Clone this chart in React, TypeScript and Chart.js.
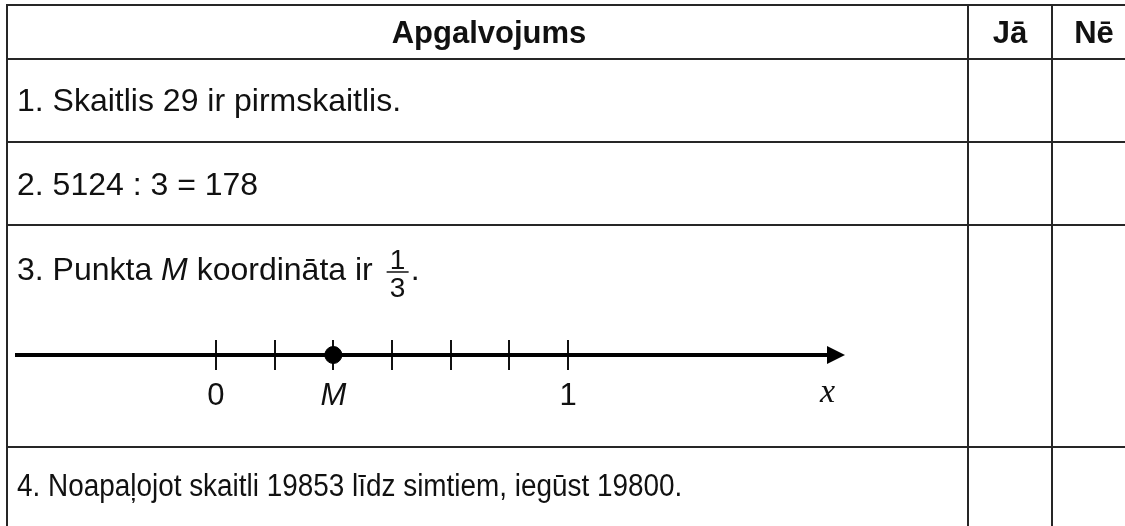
import React, { useEffect, useRef } from 'react';
import { Chart, registerables } from 'chart.js';

Chart.register(...registerables);

// ---- content / data ----
const headerLabels = ['Apgalvojums', 'Jā', 'Nē'];
const statement1 = '1. Skaitlis 29 ir pirmskaitlis.';
const statement2 = '2. 5124 : 3 = 178';
const statement3Parts = ['3. Punkta ', 'M', ' koordināta ir '];
const fractionNumerator = '1';
const fractionDenominator = '3';
const statement4 = '4. Noapaļojot skaitli 19853 līdz simtiem, iegūst 19800.';

const tickValues = [0, 1 / 6, 2 / 6, 3 / 6, 4 / 6, 5 / 6, 1];
const tickLabels = ['0', '', 'M', '', '', '', '1'];
const pointM = [{ x: 1 / 3, y: 0 }];
const axisVariable = 'x';
const axisMin = -0.5653;
const axisMax = 1.767;

const SANS = '"Liberation Sans", Arial, sans-serif';
const SERIF = '"Liberation Serif", "Times New Roman", serif';

function drawScaled(ctx: CanvasRenderingContext2D, text: string, x: number, y: number, sx: number) {
  ctx.save();
  ctx.translate(x, y);
  ctx.scale(sx, 1);
  ctx.fillText(text, 0, 0);
  ctx.restore();
  return ctx.measureText(text).width * sx;
}

const tablePlugin = {
  id: 'tableOverlay',
  afterDraw(chart: any) {
    const ctx: CanvasRenderingContext2D = chart.ctx;
    const W = chart.width;
    const H = chart.height;
    ctx.save();

    // table grid
    ctx.strokeStyle = '#262626';
    ctx.lineWidth = 2;
    const hLines = [5, 59, 142, 225, 447];
    const vLines = [7, 968, 1052];
    hLines.forEach((y) => {
      ctx.beginPath();
      ctx.moveTo(6, y);
      ctx.lineTo(W, y);
      ctx.stroke();
    });
    vLines.forEach((x) => {
      ctx.beginPath();
      ctx.moveTo(x, 4);
      ctx.lineTo(x, H);
      ctx.stroke();
    });

    ctx.fillStyle = '#111';
    ctx.textAlign = 'left';
    ctx.textBaseline = 'alphabetic';

    // header
    ctx.font = `bold 31px ${SANS}`;
    const centers = [489, 1010, 1094];
    headerLabels.forEach((h, i) => {
      const w = ctx.measureText(h).width;
      ctx.fillText(h, centers[i] - w / 2, 43);
    });

    // rows
    ctx.font = `32px ${SANS}`;
    ctx.fillText(statement1, 17, 111);
    ctx.fillText(statement2, 17, 195);

    let cx = 17;
    ctx.font = `32px ${SANS}`;
    cx += drawScaled(ctx, statement3Parts[0], cx, 280, 1);
    ctx.font = `italic 32px ${SANS}`;
    cx += drawScaled(ctx, statement3Parts[1], cx, 280, 1);
    ctx.font = `32px ${SANS}`;
    cx += drawScaled(ctx, statement3Parts[2], cx, 280, 1);
    // fraction
    const fx0 = cx + 5;
    const fw = 22;
    ctx.font = `28px ${SANS}`;
    const nw = ctx.measureText(fractionNumerator).width;
    const dw = ctx.measureText(fractionDenominator).width;
    ctx.fillText(fractionNumerator, fx0 + fw / 2 - nw / 2, 269);
    ctx.fillText(fractionDenominator, fx0 + fw / 2 - dw / 2, 297);
    ctx.lineWidth = 1.5;
    ctx.strokeStyle = '#111';
    ctx.beginPath();
    ctx.moveTo(fx0, 272);
    ctx.lineTo(fx0 + fw, 272);
    ctx.stroke();
    ctx.font = `32px ${SANS}`;
    ctx.fillText('.', fx0 + fw + 2, 280);

    ctx.font = `31px ${SANS}`;
    drawScaled(ctx, statement4, 17, 496, 0.9);

    // arrow head at the end of the number line
    const xs = chart.scales.x;
    const yAxis = chart.chartArea.bottom;
    const tip = xs.right + 7;
    ctx.fillStyle = '#000';
    ctx.beginPath();
    ctx.moveTo(tip, yAxis);
    ctx.lineTo(tip - 18, yAxis - 9);
    ctx.lineTo(tip - 18, yAxis + 9);
    ctx.closePath();
    ctx.fill();

    // variable label
    ctx.fillStyle = '#111';
    ctx.font = `italic 34px ${SERIF}`;
    ctx.fillText(axisVariable, 820, 402);

    ctx.restore();
  },
};

export default function App() {
  const canvasRef = useRef<HTMLCanvasElement | null>(null);

  useEffect(() => {
    document.body.style.margin = '0';
    const canvas = canvasRef.current;
    if (!canvas) return;
    const chart = new Chart(canvas, {
      type: 'scatter',
      data: {
        datasets: [
          {
            data: pointM,
            backgroundColor: '#000',
            borderColor: '#000',
            pointRadius: 8.5,
            pointHoverRadius: 8.5,
            clip: false as any,
          },
        ],
      },
      options: {
        responsive: false,
        animation: false,
        devicePixelRatio: 1,
        events: [],
        layout: { padding: { left: 17, right: 287, top: 340, bottom: 0 } },
        plugins: { legend: { display: false }, tooltip: { enabled: false } },
        scales: {
          x: {
            type: 'linear',
            position: 'bottom',
            min: axisMin,
            max: axisMax,
            afterBuildTicks: (scale: any) => {
              scale.ticks = tickValues.map((v) => ({ value: v }));
            },
            afterFit: (scale: any) => {
              scale.height = 171;
            },
            grid: {
              color: '#111',
              lineWidth: 2,
              tickLength: 15,
              drawOnChartArea: true,
              drawTicks: true,
            },
            border: { display: true, color: '#000', width: 4 },
            ticks: {
              autoSkip: false,
              maxRotation: 0,
              minRotation: 0,
              padding: 8,
              color: '#111',
              font: (c: any) => ({
                family: SANS,
                size: 31,
                style: c.index === 2 ? 'italic' : 'normal',
              }),
              callback: (_v: any, i: number) => tickLabels[i],
            },
          },
          y: {
            type: 'linear',
            display: false,
            min: 0,
            max: 1,
          },
        },
      },
      plugins: [tablePlugin],
    });
    return () => chart.destroy();
  }, []);

  return (
    <canvas
      ref={canvasRef}
      width={1125}
      height={526}
      style={{ position: 'absolute', left: 0, top: 0, display: 'block' }}
    />
  );
}
